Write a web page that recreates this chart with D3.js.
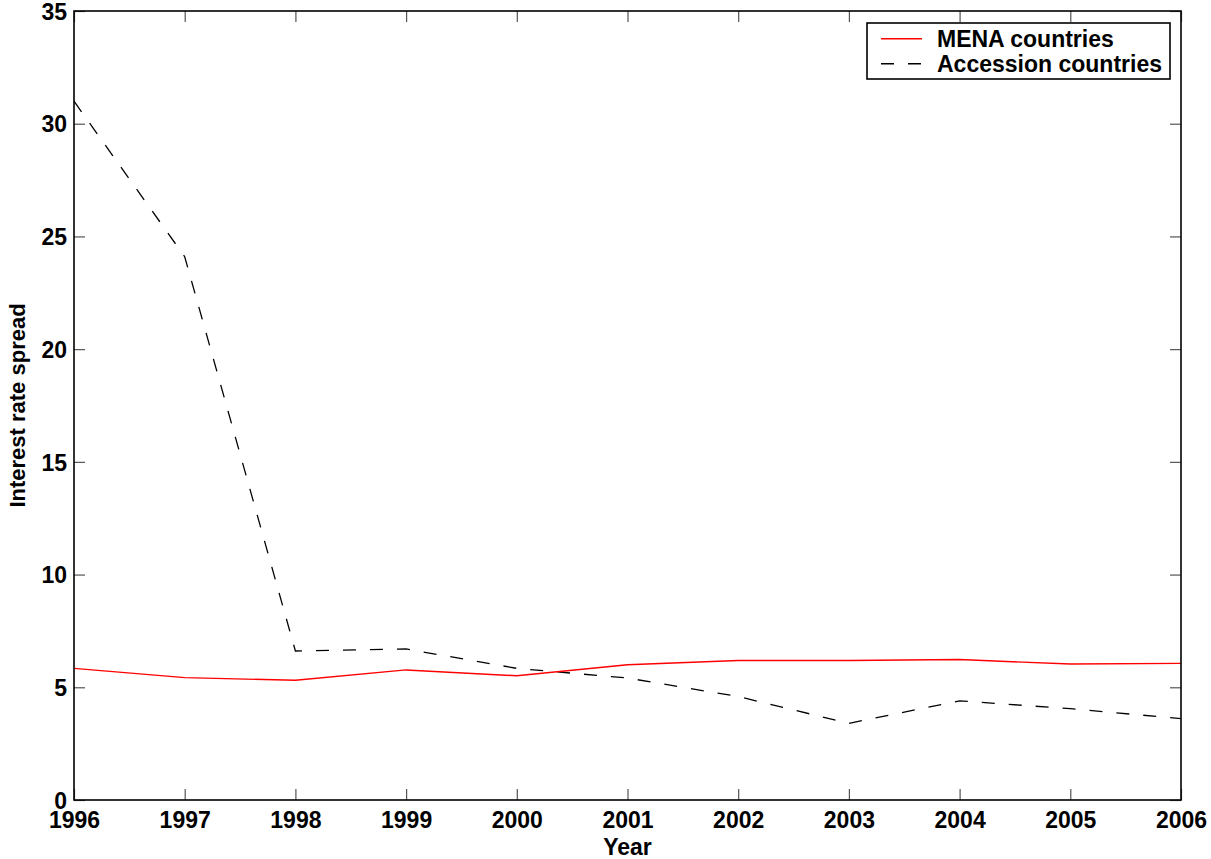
<!DOCTYPE html>
<html>
<head>
<meta charset="utf-8">
<script src="https://cdn.jsdelivr.net/npm/d3@7"></script>
<style>
    body { margin: 0; background: #fff; }
    text { font-family: "Liberation Sans", Arial, sans-serif; font-weight: bold; fill: #000; }
</style>
</head>
<body>
<svg id="chart" width="1211" height="859"></svg>
<script>
var years = [1996, 1997, 1998, 1999, 2000, 2001, 2002, 2003, 2004, 2005, 2006];
var menaValues = [5.84, 5.43, 5.31, 5.77, 5.51, 6.0, 6.19, 6.19, 6.23, 6.03, 6.06];
var accessionValues = [31.0, 24.1, 6.61, 6.70, 5.84, 5.41, 4.59, 3.40, 4.40, 4.05, 3.61];
var yTicks = [0, 5, 10, 15, 20, 25, 30, 35];
var seriesNames = ["MENA countries", "Accession countries"];

var svg = d3.select("#chart");
var margin = { top: 11, right: 30, bottom: 59, left: 74 };
var width = +svg.attr("width") - margin.left - margin.right;
var height = +svg.attr("height") - margin.top - margin.bottom;

var xScale = d3.scaleLinear().domain([1996, 2006]).range([0, width]);
var yScale = d3.scaleLinear().domain([0, 35]).range([height, 0]);

var g = svg.append("g")
    .attr("transform", "translate(" + margin.left + "," + margin.top + ")");

// axes, ticks inside like matlab
var xAxis = d3.axisBottom(xScale)
    .tickValues(years)
    .tickFormat(d3.format("d"))
    .tickSizeInner(-11)
    .tickSizeOuter(0)
    .tickPadding(14);

var yAxis = d3.axisLeft(yScale)
    .tickValues(yTicks)
    .tickSizeInner(-11)
    .tickSizeOuter(0)
    .tickPadding(7);

var gx = g.append("g")
    .attr("class", "axis axis-x")
    .attr("transform", "translate(0," + height + ")")
    .call(xAxis);

var gy = g.append("g")
    .attr("class", "axis axis-y")
    .call(yAxis);

// top and right ticks
g.append("g")
    .attr("class", "axis axis-top")
    .call(d3.axisTop(xScale).tickValues(years).tickSizeInner(-11).tickSizeOuter(0).tickFormat(""));

g.append("g")
    .attr("class", "axis axis-right")
    .attr("transform", "translate(" + width + ",0)")
    .call(d3.axisRight(yScale).tickValues(yTicks).tickSizeInner(-11).tickSizeOuter(0).tickFormat(""));

g.selectAll(".axis path").remove();
g.selectAll(".axis line").attr("stroke", "#555").attr("stroke-width", 1.2);
g.selectAll(".axis text")
    .style("font-size", "23px")
    .style("font-weight", "bold")
    .attr("fill", "#000");
gx.selectAll("text").attr("dy", "0.62em");
gy.selectAll("text").attr("dy", "0.36em");

var line = d3.line()
    .x(function (d, i) { return xScale(years[i]); })
    .y(function (d) { return yScale(d); });

g.append("path")
    .datum(accessionValues)
    .attr("fill", "none")
    .attr("stroke", "#000")
    .attr("stroke-width", 1.3)
    .attr("stroke-dasharray", "13,14")
    .attr("d", line);

g.append("path")
    .datum(menaValues)
    .attr("fill", "none")
    .attr("stroke", "#ff0000")
    .attr("stroke-width", 1.4)
    .attr("d", line);

// box
g.append("rect")
    .attr("x", 0)
    .attr("y", 0)
    .attr("width", width)
    .attr("height", height)
    .attr("fill", "none")
    .attr("stroke", "#000")
    .attr("stroke-width", 1.6);

// axis titles
svg.append("text")
    .attr("x", margin.left + width / 2)
    .attr("y", 855)
    .attr("text-anchor", "middle")
    .style("font-size", "23px")
    .text("Year");

svg.append("text")
    .attr("transform", "translate(25," + (margin.top + height / 2) + ") rotate(-90)")
    .attr("text-anchor", "middle")
    .style("font-size", "22px")
    .text("Interest rate spread");

// legend
var legend = svg.append("g").attr("transform", "translate(867,23)");
legend.append("rect")
    .attr("width", 303)
    .attr("height", 56)
    .attr("fill", "#fff")
    .attr("stroke", "#000")
    .attr("stroke-width", 1.6);

var legendStyles = [
    { color: "#ff0000", dash: null },
    { color: "#000", dash: "13,14" }
];

seriesNames.forEach(function (name, i) {
    var row = legend.append("g").attr("transform", "translate(0," + (15.7 + i * 25) + ")");
    row.append("line")
        .attr("x1", 14)
        .attr("x2", 55)
        .attr("stroke", legendStyles[i].color)
        .attr("stroke-width", 1.4)
        .attr("stroke-dasharray", legendStyles[i].dash);
    row.append("text")
        .attr("x", 70)
        .attr("y", 8)
        .style("font-size", "23px")
        .text(name);
});
</script>
</body>
</html>
